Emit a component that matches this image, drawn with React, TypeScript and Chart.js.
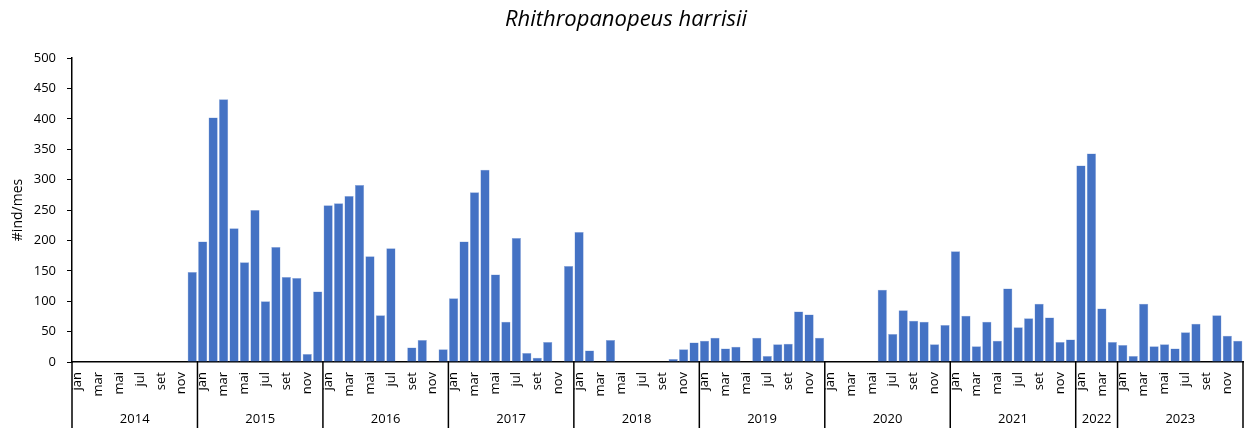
import React, { useEffect, useRef } from "react";
import { Chart, registerables } from "chart.js";

Chart.register(...registerables);

const TITLE = "Rhithropanopeus harrisii";
const Y_TITLE = "#ind/mes";
const MONTHS = ["jan", "fev", "mar", "abr", "mai", "jun", "jul", "ago", "set", "out", "nov", "dez"];
const YEARS = ["2014", "2015", "2016", "2017", "2018", "2019", "2020", "2021", "2022", "2023"];

const v2014 = [0, 0, 0, 0, 0, 0, 0, 0, 0, 0, 0, 148];
const v2015 = [198, 402, 432, 220, 164, 250, 100, 189, 140, 138, 13, 116];
const v2016 = [258, 261, 273, 291, 174, 77, 187, 0, 24, 36, 0, 21];
const v2017 = [105, 198, 279, 316, 144, 66, 204, 15, 7, 33, 0, 158];
const v2018 = [214, 19, 0, 36, 0, 0, 0, 0, 0, 5, 21, 32];
const v2019 = [35, 40, 22, 25, 0, 40, 10, 29, 30, 83, 78, 40];
const v2020 = [0, 0, 0, 0, 0, 119, 46, 85, 68, 66, 29, 61];
const v2021 = [182, 76, 26, 66, 35, 121, 57, 72, 96, 73, 33, 37];
const v2022 = [323, 343, 88, 33];
const v2023 = [28, 10, 96, 26, 29, 22, 49, 63, 0, 77, 43, 35];

const YEAR_VALUES = [v2014, v2015, v2016, v2017, v2018, v2019, v2020, v2021, v2022, v2023];

const FONT = "'Open Sans', sans-serif";

export default function App() {
  const ref = useRef<HTMLCanvasElement | null>(null);

  useEffect(() => {
    if (!ref.current) return;
    const labels: string[] = [];
    const values: number[] = [];
    const groups: { year: string; start: number; end: number }[] = [];
    YEAR_VALUES.forEach((arr, yi) => {
      const start = labels.length;
      arr.forEach((v, mi) => {
        labels.push(MONTHS[mi]);
        values.push(v);
      });
      groups.push({ year: YEARS[yi], start, end: labels.length - 1 });
    });

    const yearPlugin = {
      id: "yearPlugin",
      afterDraw(chart: any) {
        const ctx = chart.ctx;
        const x = chart.scales.x;
        const area = chart.chartArea;
        const half = (x.getPixelForValue(1) - x.getPixelForValue(0)) / 2;
        const bottom = chart.height;
        ctx.save();
        ctx.strokeStyle = "#000";
        ctx.lineWidth = 1.5;
        const drawV = (px: number) => {
          ctx.beginPath();
          ctx.moveTo(px, area.bottom);
          ctx.lineTo(px, bottom);
          ctx.stroke();
        };
        ctx.fillStyle = "#000";
        ctx.font = `13px ${FONT}`;
        ctx.textAlign = "center";
        ctx.textBaseline = "middle";
        groups.forEach((g, i) => {
          const l = x.getPixelForValue(g.start) - half;
          const r = x.getPixelForValue(g.end) + half;
          if (i === 0) drawV(l);
          drawV(r);
          ctx.fillText(g.year, (l + r) / 2, 419);
        });
        // title
        ctx.font = `italic 22px ${FONT}`;
        ctx.fillText(TITLE, 626, 20);
        ctx.restore();
      },
    };

    const chart = new Chart(ref.current, {
      type: "bar",
      data: {
        labels,
        datasets: [
          {
            data: values,
            backgroundColor: "#4472C4",
            borderColor: "#8FAADC",
            borderWidth: 0.5,
            barPercentage: 1,
            categoryPercentage: 0.88,
          },
        ],
      },
      options: {
        animation: false,
        responsive: true,
        maintainAspectRatio: false,
        layout: { padding: { top: 58, right: 5, left: 0, bottom: 0 } },
        plugins: {
          legend: { display: false },
          tooltip: { enabled: false },
          title: { display: false },
        },
        scales: {
          x: {
            grid: { display: false, drawTicks: false },
            border: { display: true, color: "#000", width: 1.5 },
            ticks: {
              autoSkip: false,
              maxRotation: 90,
              minRotation: 90,
              padding: 10,
              color: "#000",
              font: { family: FONT, size: 13 },
              callback: (_v: any, i: number) => {
                const lbl = labels[i];
                return ["jan", "mar", "mai", "jul", "set", "nov"].includes(lbl) ? lbl : "";
              },
            },
            afterFit: (s: any) => {
              s.height = 66;
              s.paddingLeft = 0;
              s.paddingRight = 0;
            },
          },
          y: {
            min: 0,
            max: 500,
            ticks: {
              stepSize: 50,
              padding: 11,
              color: "#000",
              font: { family: FONT, size: 13 },
            },
            grid: { drawOnChartArea: false, drawTicks: true, tickLength: 5, color: "#000" },
            border: { display: true, color: "#000", width: 1.5 },
            title: {
              display: true,
              text: Y_TITLE,
              color: "#000",
              font: { family: FONT, size: 14 },
              padding: { top: 10, bottom: 0 },
            },
            afterFit: (s: any) => {
              s.width = 72;
            },
          },
        },
      },
      plugins: [yearPlugin],
    });
    return () => chart.destroy();
  }, []);

  return (
    <div style={{ position: "fixed", left: 0, top: 0, width: 1248, height: 428, background: "#fff" }}>
      <canvas ref={ref} />
    </div>
  );
}
